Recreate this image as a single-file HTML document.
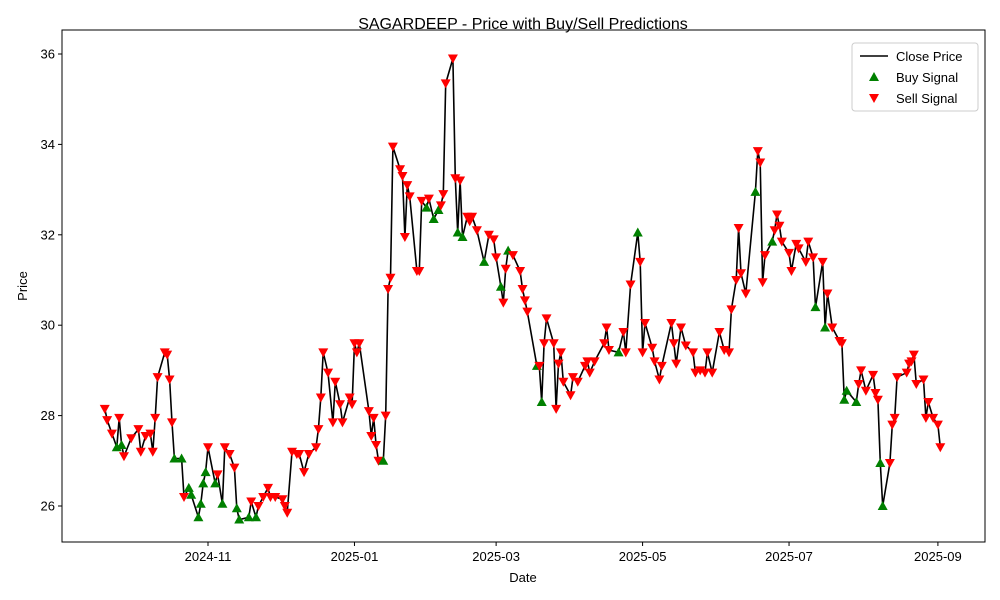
<!DOCTYPE html>
<html><head><meta charset="utf-8">
<style>
body{margin:0;background:#fff;}
svg{display:block;font-family:"Liberation Sans","DejaVu Sans",sans-serif;}
</style></head>
<body>
<svg id="chart" width="1000" height="600" viewBox="0 0 1000 600" xmlns="http://www.w3.org/2000/svg">
<rect width="1000" height="600" fill="#fff"/>
<text x="523" y="29" font-size="16" text-anchor="middle" fill="#000">SAGARDEEP - Price with Buy/Sell Predictions</text>
<text x="27" y="286" font-size="13" text-anchor="middle" transform="rotate(-90 27 286)">Price</text>
<text x="523" y="582" font-size="13" text-anchor="middle">Date</text>
<g id="axes"></g>
<g id="series"></g>
<rect x="62" y="30" width="923" height="512" fill="none" stroke="#000" stroke-width="1"/>
<g>
<rect x="852" y="43" width="126" height="68" rx="3" fill="#fff" fill-opacity="0.8" stroke="#ccc"/>
<g><line x1="860" y1="56" x2="888" y2="56" stroke="#000" stroke-width="1.5"/><text x="896" y="61" font-size="13">Close Price</text></g>
<g><polygon points="874,72 879,81 869,81" fill="green"/><text x="896" y="82" font-size="13">Buy Signal</text></g>
<g><polygon points="869,94 879,94 874,103" fill="red"/><text x="896" y="103" font-size="13">Sell Signal</text></g>
</g>
</svg>
<script>
// days since 2024-11-01
const days = [-43,-42,-40,-38,-37,-36,-35,-32,-29,-28,-26,-24,-23,-22,-21,-18,-17,-16,-15,-14,-11,-10,-8,-7,-4,-3,-2,-1,0,3,4,6,7,9,11,12,13,17,18,20,21,23,25,26,28,31,32,33,35,37,38,40,42,45,46,47,48,50,52,53,55,56,59,60,61,62,63,67,68,69,70,71,73,74,75,76,77,80,81,82,83,84,87,88,89,91,92,94,96,97,98,99,102,103,104,105,106,108,109,110,112,115,117,119,120,122,123,124,125,127,130,131,132,133,137,138,139,140,141,144,145,146,147,148,151,152,154,157,158,159,161,165,166,167,171,173,174,176,179,180,181,182,185,186,188,189,193,194,195,197,199,202,203,205,207,208,210,213,215,217,218,220,221,222,224,228,229,230,231,232,235,236,237,238,239,242,243,245,246,249,250,252,253,256,257,258,260,263,264,265,266,270,271,272,274,277,278,279,280,281,284,285,286,287,291,292,293,294,295,298,299,300,302,304,305];
const closes = [28.15,27.9,27.6,27.3,27.95,27.35,27.1,27.5,27.7,27.2,27.55,27.6,27.2,27.95,28.85,29.4,29.35,28.8,27.85,27.05,27.05,26.2,26.4,26.25,25.75,26.05,26.5,26.75,27.3,26.5,26.7,26.05,27.3,27.15,26.85,25.95,25.7,25.75,26.1,25.75,26.0,26.2,26.4,26.2,26.2,26.15,26.0,25.85,27.2,27.15,27.15,26.75,27.15,27.3,27.7,28.4,29.4,28.95,27.85,28.75,28.25,27.85,28.4,28.25,29.6,29.4,29.6,28.1,27.55,27.95,27.35,27.0,27.0,28.0,30.8,31.05,33.95,33.45,33.3,31.95,33.1,32.85,31.2,31.2,32.75,32.6,32.8,32.35,32.55,32.65,32.9,35.35,35.9,33.25,32.05,33.2,31.95,32.4,32.3,32.4,32.1,31.4,32.0,31.9,31.5,30.85,30.5,31.25,31.65,31.55,31.2,30.8,30.55,30.3,29.1,29.1,28.3,29.6,30.15,29.6,28.15,29.15,29.4,28.75,28.45,28.85,28.75,29.1,29.2,28.95,29.2,29.6,29.95,29.45,29.4,29.85,29.4,30.9,32.05,31.4,29.4,30.05,29.5,29.2,28.8,29.1,30.05,29.6,29.15,29.95,29.55,29.4,28.95,29.0,28.95,29.4,28.95,29.85,29.45,29.4,30.35,31.0,32.15,31.15,30.7,32.95,33.85,33.6,30.95,31.55,31.85,32.1,32.45,32.2,31.85,31.6,31.2,31.8,31.7,31.4,31.85,31.5,30.4,31.4,29.95,30.7,29.95,29.65,29.6,28.35,28.55,28.3,28.7,29.0,28.55,28.9,28.5,28.35,26.95,26.0,26.95,27.8,27.95,28.85,28.95,29.15,29.2,29.35,28.7,28.8,27.95,28.3,27.95,27.8,27.3];
const buyDays = [-38,-36,-14,-11,-8,-7,-4,-3,-2,-1,3,6,12,13,17,20,73,91,94,96,104,106,115,122,125,137,139,171,179,228,235,253,257,265,266,270,280,281];
const yTicks = [26,28,30,32,34,36];
const xTickDays = [0,61,120,181,242,304];
const xTickLabels = ["2024-11","2025-01","2025-03","2025-05","2025-07","2025-09"];

const NS="http://www.w3.org/2000/svg";
const xs = d => 208 + d*2.401;
const ys = p => 506 - (p-26)*45.2;
function mk(tag, attrs, parent){const e=document.createElementNS(NS,tag);for(const k in attrs)e.setAttribute(k,attrs[k]);parent.appendChild(e);return e;}
const axes=document.getElementById('axes'), series=document.getElementById('series');
yTicks.forEach(v=>{
  const y=ys(v);
  const t=mk('line',{x1:58,x2:62,y1:y,y2:y,stroke:'#000'},axes);
  
  
  const l=mk('text',{x:55,y:y+4.5,'font-size':13,'text-anchor':'end'},axes);
  l.textContent=v;
  
  
});
xTickDays.forEach((d,i)=>{
  const x=xs(d);
  const t=mk('line',{x1:x,x2:x,y1:542,y2:546,stroke:'#000'},axes);
  
  
  const l=mk('text',{x:x,y:561,'font-size':13,'text-anchor':'middle'},axes);
  l.textContent=xTickLabels[i];
  
  
});
const pts=days.map((d,i)=>xs(d).toFixed(1)+','+ys(closes[i]).toFixed(1)).join(' ');
const line=mk('polyline',{points:pts,fill:'none',stroke:'#000','stroke-width':1.6,'stroke-linejoin':'round'},series);


days.forEach((d,i)=>{
  const x=xs(d), y=ys(closes[i]);
  let m;
  if(buyDays.includes(d)){
    m=mk('polygon',{points:`${x},${y-5} ${x+5},${y+4} ${x-5},${y+4}`,fill:'green'},series);
    
  } else {
    m=mk('polygon',{points:`${x-5},${y-4} ${x+5},${y-4} ${x},${y+5}`,fill:'red'},series);
    
  }
  
});
</script>
</body></html>
